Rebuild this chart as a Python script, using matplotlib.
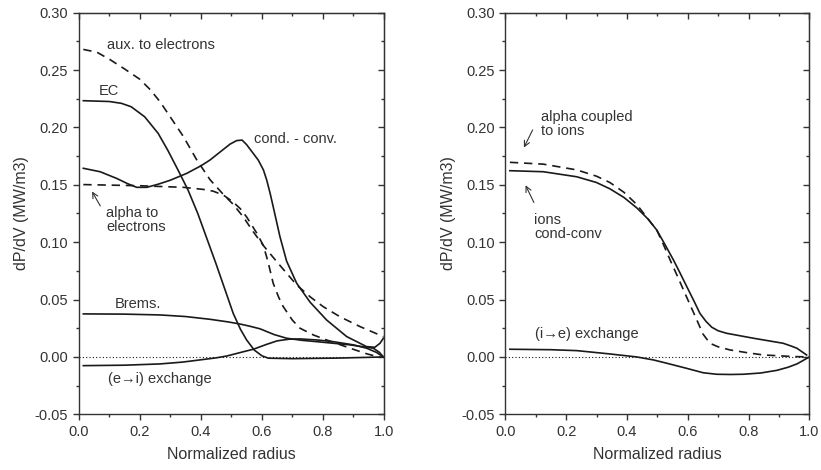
import matplotlib
matplotlib.use("Agg")
import matplotlib.pyplot as plt
from matplotlib.ticker import MultipleLocator

plt.rcParams['font.family'] = ['Liberation Sans', 'DejaVu Sans']

# ---------------- Left panel data (electrons) ----------------
aux_x = [0.015, 0.06, 0.103, 0.15, 0.2, 0.234, 0.266, 0.299, 0.343, 0.386, 0.43, 0.474, 0.506, 0.539,
         0.572, 0.605, 0.63, 0.66, 0.714, 0.76, 0.801, 0.856, 0.921, 0.998]
aux_y = [0.268, 0.2655, 0.259, 0.251, 0.242, 0.233, 0.2225, 0.2095, 0.192, 0.172, 0.1545, 0.1415, 0.133, 0.122,
         0.109, 0.097, 0.089, 0.0795, 0.0627, 0.052, 0.0438, 0.035, 0.0265, 0.0177]

ec_x = [0.015, 0.1, 0.14, 0.172, 0.216, 0.26, 0.292, 0.325, 0.358, 0.39, 0.42, 0.45, 0.48, 0.506, 0.53,
        0.55, 0.575, 0.6, 0.621, 0.7, 0.85, 1.0]
ec_y = [0.2233, 0.2226, 0.221, 0.218, 0.2093, 0.1949, 0.18, 0.163, 0.1455, 0.125, 0.103, 0.081, 0.058, 0.038,
        0.024, 0.0148, 0.006, 0.001, -0.0011, -0.0015, -0.001, 0.0]

cc_x = [0.015, 0.07, 0.124, 0.16, 0.19, 0.223, 0.26, 0.3, 0.354, 0.4, 0.43, 0.465, 0.496, 0.517, 0.535,
        0.55, 0.567, 0.588, 0.605, 0.616, 0.627, 0.637, 0.648, 0.659, 0.681, 0.714, 0.758, 0.812, 0.878,
        0.943, 0.97, 0.987, 0.998]
cc_y = [0.1644, 0.1614, 0.1556, 0.151, 0.1478, 0.1478, 0.1505, 0.154, 0.16, 0.1665, 0.1716, 0.179, 0.1855,
        0.1885, 0.189, 0.185, 0.179, 0.1716, 0.163, 0.154, 0.1426, 0.131, 0.118, 0.105, 0.0835, 0.0642,
        0.0477, 0.0322, 0.0177, 0.009, 0.0084, 0.0119, 0.0163]

alpha_e_x = [0.015, 0.2, 0.343, 0.408, 0.44, 0.474, 0.506, 0.53, 0.55, 0.583, 0.605, 0.62, 0.637, 0.655,
             0.67, 0.7, 0.725, 0.77, 0.812, 0.889, 0.94, 0.965, 0.985]
alpha_e_y = [0.1502, 0.1492, 0.1478, 0.146, 0.1445, 0.141, 0.135, 0.129, 0.122, 0.108, 0.097, 0.083, 0.0642,
             0.052, 0.0438, 0.032, 0.025, 0.019, 0.0148, 0.0076, 0.003, 0.0012, 0.0]

brems_x = [0.015, 0.15, 0.266, 0.35, 0.43, 0.49, 0.528, 0.56, 0.594, 0.64, 0.681, 0.73, 0.78, 0.889,
           0.965, 0.985, 0.998]
brems_y = [0.0375, 0.0373, 0.0366, 0.0352, 0.0328, 0.0305, 0.0287, 0.0268, 0.0245, 0.0195, 0.0163, 0.0145,
           0.0133, 0.0105, 0.0076, 0.004, 0.0]

exch_e_x = [0.015, 0.15, 0.266, 0.34, 0.397, 0.45, 0.485, 0.539, 0.572, 0.616, 0.65, 0.69, 0.725, 0.78,
            0.834, 0.9, 0.943, 0.975, 0.998]
exch_e_y = [-0.0076, -0.0072, -0.0061, -0.0045, -0.0026, -0.0008, 0.0008, 0.0045, 0.0067, 0.011, 0.014,
            0.0155, 0.0157, 0.0148, 0.0133, 0.0105, 0.0076, 0.004, 0.0]

# ---------------- Right panel data (ions) ----------------
alpha_i_x = [0.015, 0.125, 0.235, 0.3, 0.344, 0.39, 0.432, 0.47, 0.498, 0.52, 0.542, 0.565, 0.586, 0.61,
             0.63, 0.65, 0.673, 0.7, 0.739, 0.8, 0.849, 0.95, 1.0]
alpha_i_y = [0.1696, 0.168, 0.163, 0.1575, 0.152, 0.1435, 0.133, 0.12, 0.1106, 0.098, 0.0845, 0.071, 0.0584,
             0.044, 0.0322, 0.02, 0.0119, 0.0088, 0.0061, 0.0035, 0.0017, 0.0003, 0.0]

ions_x = [0.015, 0.125, 0.235, 0.3, 0.344, 0.39, 0.432, 0.47, 0.498, 0.525, 0.553, 0.575, 0.597, 0.62,
          0.64, 0.66, 0.679, 0.7, 0.728, 0.816, 0.914, 0.94, 0.959, 0.991]
ions_y = [0.1623, 0.1614, 0.157, 0.152, 0.1465, 0.139, 0.13, 0.12, 0.1106, 0.098, 0.0845, 0.073, 0.0612,
          0.049, 0.038, 0.031, 0.0259, 0.0228, 0.0206, 0.0163, 0.0119, 0.0095, 0.0076, 0.0017]

exch_i_x = [0.015, 0.15, 0.235, 0.344, 0.432, 0.487, 0.531, 0.59, 0.651, 0.695, 0.74, 0.783, 0.84, 0.893,
            0.93, 0.96, 0.98, 1.0]
exch_i_y = [0.0067, 0.0063, 0.0055, 0.0026, 0.0, -0.0026, -0.0055, -0.0095, -0.0138, -0.0151, -0.0153,
            -0.0151, -0.014, -0.0117, -0.009, -0.006, -0.003, 0.0]

xticks = [0.0, 0.2, 0.4, 0.6, 0.8, 1.0]
yticks = [-0.05, 0.00, 0.05, 0.10, 0.15, 0.20, 0.25, 0.30]

LC = '#1a1a1a'
TC = '#333333'
LW = 1.2
DASH = (0, (5, 3.5))
FS = 10.5

fig = plt.figure(figsize=(8.21, 4.70), dpi=100)
axL = fig.add_axes([0.0959, 0.1185, 0.3718, 0.8545])
axR = fig.add_axes([0.6155, 0.1185, 0.3703, 0.8545])


def style(ax):
    ax.set_xlim(0, 1.0)
    ax.set_ylim(-0.05, 0.30)
    ax.set_xticks(xticks)
    ax.set_yticks(yticks)
    ax.set_xticklabels(['%.1f' % v for v in xticks])
    ax.set_yticklabels(['%.2f' % v for v in yticks])
    ax.xaxis.set_minor_locator(MultipleLocator(0.1))
    ax.yaxis.set_minor_locator(MultipleLocator(0.025))
    ax.tick_params(which='both', direction='out', top=False, right=False,
                   colors='#333333', labelcolor=TC, labelsize=FS, width=1.0)
    ax.tick_params(which='major', length=4)
    ax.tick_params(which='minor', length=2.5)
    for s in ax.spines.values():
        s.set_color('#333333')
        s.set_linewidth(1.0)
    sx = ax.secondary_xaxis('top')
    sx.set_xticks(xticks)
    sx.xaxis.set_minor_locator(MultipleLocator(0.1))
    sx.tick_params(which='both', direction='in', labeltop=False, colors='#333333', width=1.0)
    sx.tick_params(which='major', length=4)
    sx.tick_params(which='minor', length=2.5)
    sy = ax.secondary_yaxis('right')
    sy.set_yticks(yticks)
    sy.yaxis.set_minor_locator(MultipleLocator(0.025))
    sy.tick_params(which='both', direction='in', labelright=False, colors='#333333', width=1.0)
    sy.tick_params(which='major', length=4)
    sy.tick_params(which='minor', length=2.5)
    ax.set_xlabel('Normalized radius', fontsize=11.5, color=TC, labelpad=6)
    ax.set_ylabel('dP/dV (MW/m3)', fontsize=11.5, color=TC, labelpad=4)
    ax.plot([0, 1], [0, 0], color=LC, lw=0.8, linestyle=(0, (1, 2)))


style(axL)
style(axR)

# Left panel curves
axL.plot(aux_x, aux_y, color=LC, lw=LW, linestyle=DASH)
axL.plot(ec_x, ec_y, color=LC, lw=LW)
axL.plot(cc_x, cc_y, color=LC, lw=LW)
axL.plot(alpha_e_x, alpha_e_y, color=LC, lw=LW, linestyle=DASH)
axL.plot(brems_x, brems_y, color=LC, lw=LW)
axL.plot(exch_e_x, exch_e_y, color=LC, lw=LW)

axL.text(0.093, 0.272, 'aux. to electrons', fontsize=FS, color=TC, va='center', ha='left')
axL.text(0.067, 0.2314, 'EC', fontsize=FS, color=TC, va='center', ha='left')
axL.text(0.574, 0.19, 'cond. - conv.', fontsize=FS, color=TC, va='center', ha='left')
axL.text(0.09, 0.119, 'alpha to\nelectrons', fontsize=FS, color=TC, va='center', ha='left', linespacing=1.0)
axL.annotate('', xy=(0.039, 0.1463), xytext=(0.075, 0.1295),
             arrowprops=dict(arrowstyle='->', color=TC, lw=0.8))
axL.text(0.117, 0.0463, 'Brems.', fontsize=FS, color=TC, va='center', ha='left')
axL.text(0.097, -0.0189, '(e\u2192i) exchange', fontsize=FS, color=TC, va='center', ha='left')

# Right panel curves
axR.plot(alpha_i_x, alpha_i_y, color=LC, lw=LW, linestyle=DASH)
axR.plot(ions_x, ions_y, color=LC, lw=LW)
axR.plot(exch_i_x, exch_i_y, color=LC, lw=LW)

axR.text(0.1164, 0.2027, 'alpha coupled\nto ions', fontsize=FS, color=TC, va='center', ha='left', linespacing=1.0)
axR.annotate('', xy=(0.057, 0.1803), xytext=(0.094, 0.200),
             arrowprops=dict(arrowstyle='->', color=TC, lw=0.8))
axR.text(0.094, 0.113, 'ions\ncond-conv', fontsize=FS, color=TC, va='center', ha='left', linespacing=1.0)
axR.annotate('', xy=(0.0625, 0.1518), xytext=(0.098, 0.1324),
             arrowprops=dict(arrowstyle='->', color=TC, lw=0.8))
axR.text(0.0987, 0.0196, '(i\u2192e) exchange', fontsize=FS, color=TC, va='center', ha='left')

fig.savefig('out.png', dpi=100)
